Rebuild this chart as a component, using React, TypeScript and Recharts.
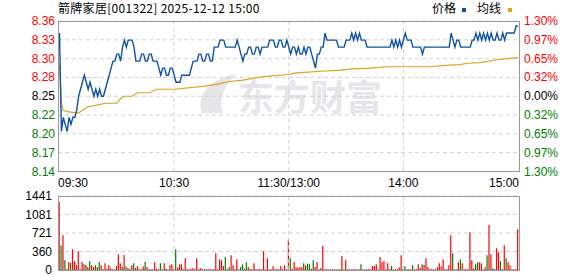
import {
  LineChart,
  Line,
  BarChart,
  Bar,
  Cell,
  XAxis,
  YAxis,
  CartesianGrid,
  ReferenceLine,
} from 'recharts';

const prevClose = 8.25;
const priceDomain = [8.1428, 8.3572];
const priceTicks = [8.1428, 8.1697, 8.1966, 8.2232, 8.25, 8.2768, 8.3036, 8.3304, 8.3572];
const timeTicks = [0, 60, 120, 180, 240];
const timeLabels = ['09:30', '10:30', '11:30/13:00', '14:00', '15:00'];
const sessionLines = [60, 120, 180];
const volumeTicks = [0, 360.25, 720.5, 1080.75, 1441];

// minute prices, 09:30 .. 15:00 (241 points)
const prices = [
  8.34, 8.20, 8.22, 8.21, 8.20, 8.22, 8.21, 8.22, 8.22, 8.23,
  8.25, 8.26, 8.27, 8.28, 8.27, 8.26, 8.27, 8.26, 8.25, 8.26,
  8.25, 8.26, 8.25, 8.25, 8.26, 8.27, 8.28, 8.29, 8.30, 8.30,
  8.31, 8.31, 8.30, 8.32, 8.33, 8.32, 8.33, 8.33, 8.33, 8.32,
  8.30, 8.30, 8.30, 8.31, 8.31, 8.30, 8.30, 8.31, 8.31, 8.30,
  8.30, 8.30, 8.29, 8.28, 8.29, 8.29, 8.28, 8.28, 8.29, 8.29,
  8.28, 8.27, 8.27, 8.27, 8.28, 8.28, 8.28, 8.28, 8.28, 8.29,
  8.30, 8.30, 8.30, 8.31, 8.31, 8.30, 8.30, 8.31, 8.31, 8.30,
  8.30, 8.32, 8.32, 8.32, 8.33, 8.33, 8.33, 8.32, 8.32, 8.32,
  8.32, 8.32, 8.32, 8.33, 8.32, 8.31, 8.30, 8.31, 8.31, 8.32,
  8.32, 8.31, 8.31, 8.32, 8.32, 8.31, 8.32, 8.32, 8.32, 8.32,
  8.33, 8.33, 8.33, 8.32, 8.32, 8.33, 8.33, 8.32, 8.32, 8.33,
  8.32,
  8.31, 8.32, 8.32, 8.31, 8.32, 8.31, 8.31, 8.32, 8.31, 8.32,
  8.32, 8.31, 8.30, 8.29, 8.31, 8.31, 8.32, 8.32, 8.34, 8.33,
  8.33, 8.33, 8.33, 8.33, 8.33, 8.32, 8.32, 8.32, 8.32, 8.33,
  8.33, 8.33, 8.34, 8.33, 8.34, 8.33, 8.34, 8.33, 8.33, 8.33,
  8.32, 8.32, 8.32, 8.32, 8.32, 8.32, 8.32, 8.32, 8.32, 8.32,
  8.32, 8.32, 8.32, 8.33, 8.32, 8.33, 8.32, 8.33, 8.32, 8.33,
  8.34, 8.33, 8.33, 8.33, 8.32, 8.32, 8.32, 8.32, 8.32, 8.31,
  8.32, 8.32, 8.32, 8.32, 8.32, 8.32, 8.32, 8.32, 8.32, 8.32,
  8.32, 8.32, 8.32, 8.32, 8.34, 8.33, 8.32, 8.33, 8.33, 8.32,
  8.32, 8.32, 8.32, 8.32, 8.32, 8.33, 8.33, 8.34, 8.33, 8.34,
  8.33, 8.34, 8.33, 8.34, 8.33, 8.34, 8.33, 8.33, 8.34, 8.33,
  8.33, 8.34, 8.33, 8.34, 8.34, 8.34, 8.34, 8.34, 8.35, 8.35,
];

// average price line, read at these minutes
const avgMinutes = [
  0, 1, 2, 4, 10, 12, 15, 19, 24, 30, 32, 34, 38, 41, 47, 51, 60, 75, 84, 89,
  96, 107, 120, 123, 128, 139, 146, 153, 162, 172, 183, 194, 202, 209, 214, 220, 229, 236, 240,
];
const avgValues = [
  8.294, 8.24, 8.23, 8.228, 8.226, 8.23, 8.235, 8.237, 8.24, 8.24, 8.247, 8.25, 8.25, 8.255,
  8.255, 8.26, 8.26, 8.264, 8.268, 8.271, 8.273, 8.278, 8.281, 8.283, 8.284, 8.286, 8.287,
  8.289, 8.29, 8.292, 8.292, 8.292, 8.294, 8.295, 8.297, 8.298, 8.302, 8.304, 8.305,
];

const volumes = [
  1330, 482, 678, 189, 13, 156, 137, 404, 170, 91,
  365, 13, 156, 111, 98, 59, 176, 91, 59, 91,
  59, 156, 91, 13, 130, 26, 98, 39, 13, 13,
  78, 306, 130, 59, 293, 72, 39, 13, 91, 130,
  39, 78, 13, 13, 72, 156, 59, 13, 13, 13,
  150, 26, 13, 130, 13, 130, 26, 13, 91, 111,
  13, 404, 46, 111, 111, 13, 228, 13, 13, 26,
  39, 13, 228, 13, 33, 13, 13, 13, 13, 13,
  13, 13, 326, 13, 209, 189, 78, 254, 13, 52,
  287, 91, 13, 209, 13, 59, 111, 26, 150, 59,
  26, 13, 130, 13, 13, 13, 13, 365, 13, 228,
  13, 13, 72, 13, 13, 13, 78, 13, 91, 13,
  600,
  228, 26, 156, 59, 39, 59, 52, 130, 91, 124,
  111, 26, 189, 59, 156, 13, 39, 470, 13, 13,
  13, 13, 13, 13, 13, 13, 13, 274, 13, 189,
  13, 13, 13, 13, 13, 13, 13, 111, 13, 13,
  13, 13, 13, 78, 78, 111, 13, 254, 150, 176,
  13, 130, 13, 78, 13, 13, 13, 52, 287, 26,
  72, 13, 13, 13, 91, 13, 13, 111, 39, 111,
  98, 228, 59, 13, 13, 13, 13, 52, 130, 72,
  209, 13, 13, 91, 678, 326, 13, 13, 150, 209,
  130, 13, 13, 13, 737, 189, 33, 111, 150, 150,
  130, 13, 52, 287, 874, 306, 33, 13, 424, 346,
  170, 13, 482, 228, 150, 91, 13, 13, 13, 795,
];

// 1 = red bar, 0 = green bar
const volumeUp = [
  1, 0, 1, 0, 1, 1, 0, 1, 1, 1,
  1, 1, 1, 1, 0, 1, 0, 1, 0, 1,
  0, 0, 1, 1, 1, 1, 1, 1, 1, 1,
  1, 1, 1, 0, 1, 0, 1, 1, 1, 0,
  1, 1, 1, 1, 1, 0, 1, 1, 1, 1,
  1, 1, 1, 0, 1, 1, 0, 1, 1, 1,
  1, 0, 1, 1, 1, 1, 1, 1, 1, 1,
  1, 1, 1, 1, 1, 1, 0, 1, 1, 1,
  0, 1, 1, 1, 1, 1, 1, 0, 1, 0,
  1, 1, 1, 1, 1, 0, 0, 1, 0, 1,
  1, 1, 1, 1, 1, 1, 0, 1, 1, 1,
  1, 1, 1, 1, 1, 1, 1, 1, 1, 1,
  1,
  0, 1, 1, 1, 1, 1, 1, 0, 1, 0,
  0, 1, 0, 1, 1, 1, 1, 1, 0, 1,
  1, 1, 1, 0, 1, 0, 1, 1, 0, 1,
  0, 0, 1, 1, 1, 1, 1, 0, 1, 1,
  0, 1, 1, 1, 1, 1, 1, 1, 1, 1,
  1, 1, 1, 0, 1, 1, 1, 1, 1, 0,
  0, 1, 1, 1, 0, 1, 1, 1, 1, 0,
  1, 1, 1, 1, 1, 1, 1, 1, 1, 1,
  1, 1, 1, 1, 1, 0, 1, 1, 1, 0,
  1, 1, 1, 1, 1, 1, 1, 0, 0, 1,
  1, 1, 1, 0, 1, 1, 0, 1, 1, 1,
  0, 1, 1, 0, 1, 1, 1, 1, 1, 1,
];

const latin = '"Liberation Sans", Arial, sans-serif';
const cjk = '"Noto Sans CJK SC", "Liberation Sans", sans-serif';
const upColor = '#ff0000';
const downColor = '#008000';
const priceColor = '#0f50a6';
const avgColor = '#dca322';
const gridColor = '#d2d2d2';
const frameColor = '#999999';

const rows = prices.map((price, t) => {
  const k = avgMinutes.indexOf(t);
  return { t, price, avg: k >= 0 ? avgValues[k] : null };
});
const volRows = volumes.map((vol, t) => ({ t, vol }));

const levelColor = (v: number) =>
  Math.abs(v - prevClose) < 1e-6 ? '#000000' : v > prevClose ? upColor : downColor;

function PriceTick({ y, payload }: any) {
  const v = payload.value as number;
  return (
    <text x={55} y={y} dy={4} textAnchor="end" fill={levelColor(v)} fontSize={12} fontFamily={latin}>
      {v.toFixed(2)}
    </text>
  );
}

function PctTick({ y, payload }: any) {
  const v = payload.value as number;
  const pct = Math.abs((v / prevClose - 1) * 100).toFixed(2);
  return (
    <text x={524} y={y} dy={4} textAnchor="start" fill={levelColor(v)} fontSize={12} fontFamily={latin}>
      {pct}%
    </text>
  );
}

function TimeTick({ x, payload }: any) {
  const idx = timeTicks.indexOf(payload.value);
  const last = idx === timeTicks.length - 1;
  const anchor = idx === 0 ? 'start' : last ? 'end' : 'middle';
  const px = idx === 0 ? 58 : last ? 519 : x;
  return (
    <text x={px} y={187} textAnchor={anchor} fill="#000" fontSize={12} fontFamily={latin}>
      {timeLabels[idx]}
    </text>
  );
}

function VolTick({ y, payload }: any) {
  return (
    <text x={52} y={y} dy={4} textAnchor="end" fill="#000" fontSize={12} fontFamily={latin}>
      {Math.round(payload.value)}
    </text>
  );
}

const frame = (top: number, height: number) => ({
  position: 'absolute' as const,
  left: 58,
  top,
  width: 462,
  height,
  border: `1px solid ${frameColor}`,
  boxSizing: 'border-box' as const,
  pointerEvents: 'none' as const,
});

export default function App() {
  return (
    <div style={{ position: 'absolute', left: 0, top: 0, width: 578, height: 276, background: '#fff', overflow: 'hidden' }}>
      {/* watermark */}
      <svg width={578} height={276} style={{ position: 'absolute', left: 0, top: 0 }}>
        <path d="M202,113 C196,95 209,79 236,74 C223,88 218,100 223,113 Z" fill="#e6e6ea" />
        <text x={238} y={111} fontSize={36} fontWeight="bold" fill="#e6e6ea" fontFamily={cjk} letterSpacing={0}>
          东方财富
        </text>
      </svg>

      <div style={{ position: 'absolute', left: 58, top: 0, fontSize: 12, lineHeight: '16px', fontFamily: cjk, color: '#000', whiteSpace: 'nowrap', letterSpacing: 0.3 }}>
        箭牌家居[001322] 2025-12-12 15:00
      </div>
      <div style={{ position: 'absolute', left: 432, top: 0, fontSize: 12, lineHeight: '16px', fontFamily: cjk, color: '#000', whiteSpace: 'nowrap' }}>
        价格
      </div>
      <div style={{ position: 'absolute', left: 462, top: 8, width: 4, height: 4, background: priceColor }} />
      <div style={{ position: 'absolute', left: 477, top: 0, fontSize: 12, lineHeight: '16px', fontFamily: cjk, color: '#000', whiteSpace: 'nowrap' }}>
        均线
      </div>
      <div style={{ position: 'absolute', left: 508, top: 8, width: 4, height: 4, background: avgColor }} />

      <div style={{ position: 'absolute', left: 0, top: 0 }}>
        <LineChart width={578} height={276} data={rows} margin={{ top: 21, right: 0, bottom: 84.5, left: 0 }}>
          <CartesianGrid vertical={false} stroke={gridColor} strokeDasharray="4 3" />
          <XAxis
            dataKey="t"
            type="number"
            domain={[0, 240]}
            ticks={timeTicks}
            interval={0}
            height={20}
            padding={{ left: 1.5, right: 1 }}
            axisLine={false}
            tickLine={false}
            tick={<TimeTick />}
          />
          <YAxis
            domain={priceDomain}
            ticks={priceTicks}
            interval={0}
            width={58}
            allowDataOverflow
            axisLine={false}
            tickLine={false}
            tick={<PriceTick />}
          />
          <YAxis
            yAxisId="pct"
            orientation="right"
            domain={priceDomain}
            ticks={priceTicks}
            interval={0}
            width={59}
            allowDataOverflow
            axisLine={false}
            tickLine={false}
            tick={<PctTick />}
          />
          {sessionLines.map((m) => (
            <ReferenceLine key={m} x={m} stroke={gridColor} strokeDasharray="4 3" />
          ))}
          <Line type="linear" dataKey="avg" stroke={avgColor} strokeWidth={1.2} dot={false} connectNulls isAnimationActive={false} />
          <Line type="linear" dataKey="price" stroke={priceColor} strokeWidth={1.4} dot={false} isAnimationActive={false} />
        </LineChart>
      </div>

      <div style={{ position: 'absolute', left: 0, top: 0 }}>
        <BarChart width={578} height={276} data={volRows} margin={{ top: 196, right: 59, bottom: 6, left: 0 }}>
          <CartesianGrid vertical={false} stroke={gridColor} strokeDasharray="4 3" />
          <XAxis dataKey="t" type="number" domain={[0, 240]} hide padding={{ left: 1.5, right: 1 }} />
          <YAxis
            domain={[0, 1441]}
            ticks={volumeTicks}
            interval={0}
            width={58}
            allowDataOverflow
            axisLine={false}
            tickLine={false}
            tick={<VolTick />}
          />
          {sessionLines.map((m) => (
            <ReferenceLine key={m} x={m} stroke={gridColor} strokeDasharray="4 3" />
          ))}
          <Bar dataKey="vol" barSize={1.2} isAnimationActive={false}>
            {volRows.map((r) => (
              <Cell key={r.t} fill={volumeUp[r.t] ? upColor : downColor} />
            ))}
          </Bar>
        </BarChart>
      </div>

      <div style={frame(21, 151)} />
      <div style={frame(196, 75)} />
    </div>
  );
}
